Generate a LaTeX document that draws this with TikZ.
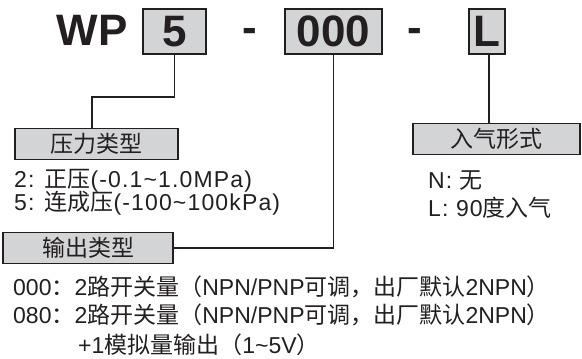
\documentclass[tikz,border=0pt]{standalone}
\usepackage{fontspec}
\setmainfont{Liberation Sans}
\newfontfamily\cjk{Noto Sans CJK SC}
\newfontfamily\desclatin{Liberation Sans}[LetterSpace = 5]
\newcommand\zh[1]{{\cjk #1}}
\usetikzlibrary{positioning}
\definecolor{boxgray}{RGB}{211,212,214}
\definecolor{ink}{RGB}{35,31,32}

\begin{document}
\begin{tikzpicture}[x = 1pt, y = -1pt, every node/.style = { text = ink },
    codebox/.style = { draw = ink, fill = boxgray, line width = 1.2pt, minimum height = 45pt, inner sep = 0pt, font = \fontsize{44}{44}\selectfont\bfseries },
    codetext/.style = { inner sep = 0pt, font = \fontsize{44}{44}\selectfont\bfseries },
    labelbox/.style = { draw = ink, fill = boxgray, line width = 1.2pt, minimum height = 31pt, inner sep = 0pt, font = \fontsize{23}{23}\selectfont\cjk },
    desc/.style = { anchor = base west, inner sep = 0pt, font = \fontsize{23}{23}\selectfont\desclatin },
    outdesc/.style = { anchor = base west, inner sep = 0pt, font = \fontsize{23}{23}\selectfont },
    link/.style = { draw = ink, line width = 1.8pt }]
  \useasboundingbox (0,0) rectangle (582,359);

  % model code
  \node (wp) [codetext] at (92,30) {WP};
  \node (code5) [codebox, minimum width = 63pt] at (174.5,31.5) {5};
  \node (dash1) [codetext] at (250,35) {-};
  \node (code000) [codebox, minimum width = 97pt] at (333.5,31.5) {000};
  \node (dash2) [codetext] at (414.5,35) {-};
  \node (codeL) [codebox, minimum width = 36pt] at (487,31.5) {L};

  % headings
  \node (press) [labelbox, minimum width = 163pt] at (96.5,144) {压力类型};
  \node (inlet) [labelbox, minimum width = 167pt] at (496.5,139) {入气形式};
  \node (output) [labelbox, minimum width = 170pt] at (88,248) {输出类型};

  % connectors
  \coordinate (bend5) at (92,97);
  \draw [link] (code5.south) |- (bend5) -- (bend5 |- press.north);
  \draw [link] (code000.south) |- (output.east);
  \draw [link] ([xshift = 2pt]codeL.south) -- ([xshift = 2pt]codeL.south |- inlet.north);

  % options
  \node (press1) [desc] at (14,187) {2: \zh{正压}(-0.1\textasciitilde 1.0MPa)};
  \node (press2) [desc] at (14,210) {5: \zh{连成压}(-100\textasciitilde 100kPa)};
  \node (inlet1) [desc] at (428,188) {N: \zh{无}};
  \node (inlet2) [desc] at (428,216) {L: 90\zh{度入气}};
  \node (out1) [outdesc] at (13,295) {000\zh{：}2\zh{路开关量（}NPN/PNP\zh{可调，出厂默认}2NPN\zh{）}};
  \node (out2) [outdesc] at (13,323) {080\zh{：}2\zh{路开关量（}NPN/PNP\zh{可调，出厂默认}2NPN\zh{）}};
  \node (out3) [outdesc] at (78,353) {+1\zh{模拟量输出（}1\textasciitilde 5V\zh{）}};
\end{tikzpicture}
\end{document}
